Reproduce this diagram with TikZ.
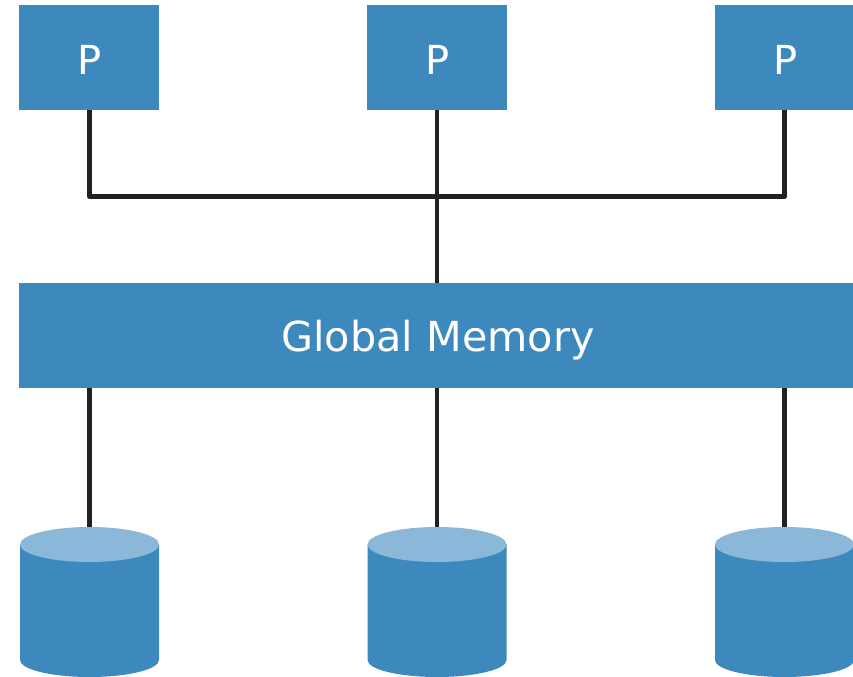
\documentclass[tikz,border=0pt]{standalone}
\usepackage{fontspec}
\setmainfont{DejaVu Sans}
\definecolor{bluefill}{RGB}{61,136,189}
\definecolor{bluetop}{RGB}{139,183,216}
\definecolor{linec}{RGB}{35,32,32}
\tikzset{
  x=0.75pt,y=-0.75pt,
  box/.style={fill=bluefill,draw=none,inner sep=0pt,text=white,text depth=0pt},
  pbox/.style={box,font=\fontsize{30}{34}\selectfont,minimum width=105pt,minimum height=78.75pt,text height=26.25pt},
  membox/.style={box,font=\fontsize{31}{34}\selectfont,minimum width=625.5pt,minimum height=78.75pt,text height=24pt},
  conn/.style={draw=linec,line width=3.2pt,line join=round},
}
\newcommand{\disk}[3]{%
  \fill[bluefill] (#1-69.5,#2+17) -- (#1-69.5,#2+133) arc[start angle=180,end angle=0,x radius=69.5,y radius=17] -- (#1+69.5,#2+17) -- cycle;
  \fill[bluetop] (#1,#2+17.5) ellipse[x radius=69.5,y radius=17.5];
  \coordinate (#3) at (#1,#2);
}
\begin{document}
\begin{tikzpicture}
\useasboundingbox (0,0) rectangle (853,677);
\node[pbox] (p1) at (89,57.5) {\hspace*{1.5pt}P};
\node[pbox] (p2) at (437,57.5) {\hspace*{1.5pt}P};
\node[pbox] (p3) at (785,57.5) {\hspace*{1.5pt}P};
\node[membox] (gm) at (436,335.5) {\hspace*{3pt}Global Memory};
\coordinate (j1) at (89.5,196.5);
\coordinate (j2) at (437,196.5);
\coordinate (j3) at (784.5,196.5);
\coordinate (g1) at (89.5,388);
\coordinate (g2) at (437,388);
\coordinate (g3) at (784.5,388);
\coordinate (g0) at (437,283);
\disk{89.5}{527}{d1}
\disk{437}{527}{d2}
\disk{784.5}{527}{d3}
\draw[conn] (p1.south -| j1) -- (j1) -- (j3) -- (p3.south -| j3);
\draw[conn] (p2.south) -- (g0);
\draw[conn] (g1) -- (g1 |- d1);
\draw[conn] (g2) -- (g2 |- d2);
\draw[conn] (g3) -- (g3 |- d3);
\end{tikzpicture}
\end{document}
